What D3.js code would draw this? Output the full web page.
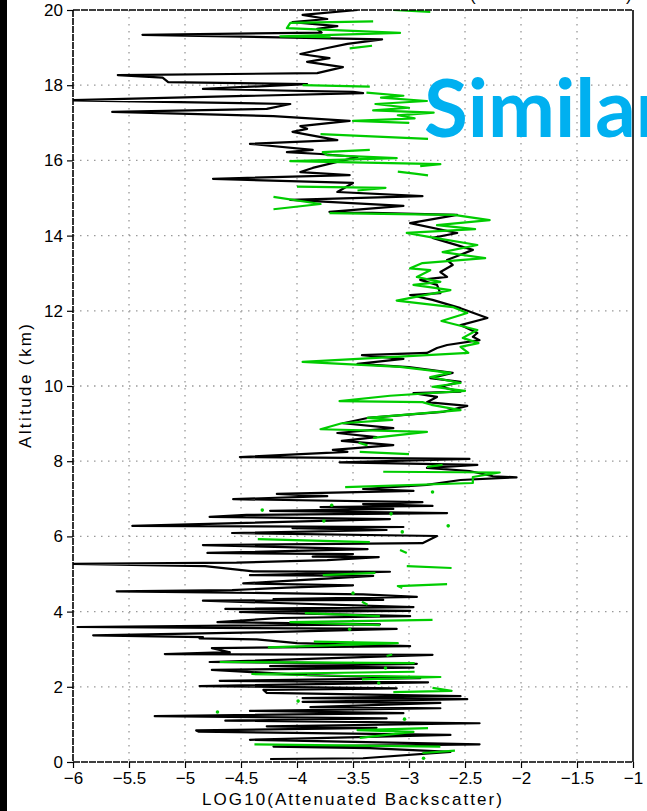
<!DOCTYPE html>
<html>
<head>
<meta charset="utf-8">
<script src="https://cdn.jsdelivr.net/npm/d3@7"></script>
<style>
  body { margin: 0; background: #fff; }
  svg { display: block; }
</style>
</head>
<body>
<div id="chart"></div>
<script>
// axis ticks
var xTicks = [-6, -5.5, -5, -4.5, -4, -3.5, -3, -2.5, -2, -1.5, -1];
var yTicks = [0, 2, 4, 6, 8, 10, 12, 14, 16, 18, 20];

// black profile: [altitude km, log10 backscatter]
var blackProfile = [
  [20.0,-3.46],[19.87,-3.95],[19.76,-3.73],[19.68,-4.04],[19.57,-3.64],[19.5,-3.82],[19.4,-3.78],[19.34,-5.38],
  [19.22,-3.24],[19.1,-3.55],[18.99,-3.73],[18.83,-3.97],[18.72,-3.71],[18.62,-3.91],[18.48,-3.59],[18.32,-3.82],
  [18.27,-5.6],[18.2,-5.2],[18.08,-5.15],[18.03,-3.91],[17.9,-4.84],[17.82,-3.5],[17.79,-3.41],[17.6,-6.05],
  [17.5,-4.06],[17.37,-4.27],[17.29,-5.65],[17.18,-4.21],[17.05,-3.53],[16.91,-3.97],[16.84,-3.91],[16.76,-4.04],
  [16.54,-3.64],[16.44,-4.42],[16.28,-3.86],[16.22,-4.09],[16.17,-3.79],[16.09,-3.46],[15.8,-3.86],[15.69,-3.97],
  [15.61,-3.53],[15.51,-4.75],[15.4,-3.5],[15.16,-3.64],[15.05,-2.88],[14.95,-4.06],[14.79,-3.05],[14.63,-3.71],
  [14.55,-2.57],[14.33,-2.99],[14.07,-2.57],[13.94,-2.79],[13.62,-2.43],[13.35,-2.66],[13.22,-2.61],[13.03,-2.72],
  [12.9,-2.66],[12.82,-2.9],[12.69,-2.75],[12.47,-2.72],[12.42,-2.99],[12.29,-2.79],[12.07,-2.54],[11.81,-2.3],
  [11.62,-2.54],[11.41,-2.39],[11.31,-2.43],[11.22,-2.37],[11.09,-2.66],[11.01,-2.75],[10.88,-2.84],[10.82,-3.42],
  [10.72,-3.05],[10.59,-3.46],[10.5,-3.0],[10.35,-2.61],[10.21,-2.81],[10.11,-2.54],[9.98,-2.72],[9.85,-2.54],
  [9.81,-2.96],[9.71,-2.75],[9.57,-2.84],[9.47,-2.48],[9.31,-2.7],[9.15,-3.37],[9.01,-3.59],[8.88,-3.14],
  [8.75,-3.64],[8.64,-3.29],[8.54,-3.6],[8.43,-3.14],[8.3,-3.68],[8.25,-3.55],[8.11,-4.51],[8.06,-2.46],
  [7.97,-3.62],[7.9,-2.39],[7.82,-2.84],[7.74,-2.46],[7.6,-2.25],[7.57,-2.04],[7.5,-2.54],[7.37,-2.84],
  [7.26,-3.41],[7.21,-2.96],[7.13,-4.18],[7.07,-3.73],[6.99,-4.57],[6.91,-2.88],[6.86,-3.41],[6.81,-2.79],
  [6.78,-3.79],[6.73,-3.14],[6.68,-4.24],[6.62,-2.66],[6.57,-4.45],[6.52,-4.78],[6.46,-3.17],[6.28,-5.47],
  [6.25,-3.05],[6.22,-4.04],[6.17,-3.2],[6.09,-4.58],[6.01,-2.75],[5.82,-2.88],[5.77,-4.84],[5.66,-3.37],
  [5.56,-4.8],[5.53,-3.5],[5.46,-3.86],[5.45,-3.27],[5.37,-3.73],[5.3,-4.54],[5.27,-6.05],[5.21,-4.82],
  [5.07,-4.39],[5.06,-3.17],[4.97,-4.42],[4.95,-3.32],[4.79,-4.24],[4.75,-4.48],[4.7,-3.5],[4.64,-4.09],
  [4.57,-4.58],[4.54,-5.61],[4.46,-3.41],[4.39,-2.93],[4.33,-4.21],[4.31,-3.23],[4.29,-4.84],[4.12,-2.96],
  [4.07,-4.64],[4.02,-2.99],[3.99,-4.51],[3.88,-2.99],[3.83,-4.15],[3.72,-4.71],[3.66,-3.26],[3.59,-5.96],
  [3.54,-3.11],[3.45,-4.33],[3.37,-5.82],[3.32,-4.84],[3.29,-4.87],[3.26,-4.36],[3.16,-4.0],[3.08,-2.99],
  [3.03,-4.76],[2.92,-4.6],[2.87,-5.18],[2.85,-2.79],[2.66,-4.78],[2.61,-2.93],[2.55,-4.24],[2.51,-2.96],
  [2.45,-4.76],[2.31,-3.91],[2.23,-2.9],[2.16,-4.69],[2.12,-2.83],[2.02,-4.87],[1.96,-3.11],[1.92,-4.3],
  [1.84,-4.27],[1.75,-2.54],[1.7,-3.95],[1.67,-2.48],[1.6,-3.95],[1.57,-2.72],[1.46,-3.88],[1.43,-2.72],
  [1.36,-4.42],[1.3,-3.05],[1.22,-5.27],[1.16,-3.2],[1.1,-4.64],[1.03,-2.37],[0.95,-4.27],[0.91,-3.29],
  [0.84,-4.9],[0.81,-4.88],[0.72,-2.63],[0.64,-3.73],[0.59,-4.42],[0.47,-2.37],[0.41,-4.21],[0.37,-3.35],
  [0.27,-2.63],[0.1,-3.41],[0.08,-4.24]
];

// green profile, null = missing data
var greenProfile = [
  [20.0,-3.14],[19.95,-2.81],null,
  [19.7,-3.32],[19.66,-4.06],[19.52,-4.09],[19.39,-3.08],[19.3,-4.15],[19.28,-3.7],null,
  [19.05,-3.33],[18.98,-3.53],null,
  [18.0,-3.95],[17.96,-3.35],null,
  [17.8,-3.38],[17.72,-3.05],[17.67,-3.25],[17.58,-2.84],[17.5,-3.3],[17.4,-3.0],[17.33,-3.32],[17.27,-2.78],
  [17.2,-3.1],[17.12,-2.95],[17.05,-3.5],[17.0,-3.0],null,
  [16.7,-3.79],[16.57,-2.83],null,
  [16.28,-3.35],[16.22,-3.77],[16.14,-3.73],[16.06,-3.11],[15.98,-4.06],[15.9,-2.72],[15.85,-2.9],null,
  [15.7,-3.1],[15.65,-2.95],[15.6,-2.83],null,
  [15.3,-4.0],[15.27,-3.21],[15.2,-3.46],null,
  [15.03,-4.21],[14.84,-3.79],[14.7,-4.21],null,
  [14.6,-3.71],[14.55,-2.6],[14.41,-2.28],[14.28,-2.75],[14.17,-2.41],[14.07,-3.02],[13.96,-2.81],[13.75,-2.39],
  [13.56,-2.7],[13.4,-2.32],[13.27,-2.88],[13.13,-2.99],[13.08,-2.81],[12.9,-2.93],[12.77,-2.72],[12.69,-2.96],
  [12.55,-2.63],[12.27,-3.11],[12.1,-2.61],[11.94,-2.48],[11.73,-2.71],[11.49,-2.39],[11.28,-2.52],[11.14,-2.38],
  [11.04,-2.54],[10.88,-2.47],[10.64,-3.95],[10.51,-3.08],[10.35,-2.63],[10.24,-2.81],[10.08,-2.54],[9.98,-2.79],
  [9.87,-2.5],[9.74,-3.17],[9.6,-3.62],[9.57,-2.88],[9.5,-2.8],[9.36,-2.54],[9.15,-3.37],[9.1,-3.15],
  [9.01,-3.6],[8.85,-3.79],[8.78,-2.84],[8.62,-3.32],null,
  [8.49,-3.45],[8.42,-3.37],null,
  [8.25,-3.44],[8.19,-3.0],null,
  [7.9,-2.7],[7.85,-2.84],null,
  [7.72,-3.23],[7.7,-2.19],[7.58,-2.43],[7.42,-2.43],[7.31,-3.57],null,
  [7.18,-2.79],null,[6.83,-3.69],null,[6.7,-4.31],null,[6.6,-3.16],null,[6.41,-3.76],null,[6.28,-2.65],null,[6.12,-3.06],null,
  [5.93,-4.35],[5.85,-3.35],null,
  [5.64,-3.08],[5.56,-3.02],null,
  [5.21,-3.02],[5.16,-2.62],null,
  [5.03,-3.3],[4.97,-3.77],null,
  [4.73,-2.66],[4.68,-3.1],[4.63,-3.06],null,
  [4.49,-3.5],null,
  [4.26,-3.42],[4.18,-3.37],null,
  [3.96,-3.93],[3.88,-3.26],null,
  [3.78,-2.79],[3.72,-4.06],[3.64,-3.26],null,
  [3.53,-3.53],null,
  [3.2,-3.85],[3.16,-3.1],[3.05,-4.26],null,
  [2.86,-3.15],[2.82,-3.2],null,
  [2.66,-4.69],[2.63,-2.95],null,
  [2.5,-3.21],null,
  [2.4,-2.95],[2.34,-4.4],[2.26,-2.72],[2.2,-3.42],null,
  [2.1,-3.27],null,
  [1.97,-2.79],[1.89,-2.62],[1.86,-3.14],null,
  [1.62,-3.99],null,[1.33,-4.71],null,[1.14,-3.04],null,
  [0.9,-2.83],[0.85,-3.46],[0.8,-2.96],[0.64,-3.44],null,
  [0.47,-4.38],[0.41,-2.72],null,
  [0.3,-2.59],[0.24,-2.88],null,
  [0.1,-2.87]
];

var W = 647, H = 811;
var m = {left: 73, right: 14, top: 10, bottom: 49};
var iw = W - m.left - m.right, ih = H - m.top - m.bottom;

var svg = d3.select("#chart").append("svg").attr("width", W).attr("height", H);

// black strip on the left edge
svg.append("rect").attr("x", 0).attr("y", 0).attr("width", 7).attr("height", H).attr("fill", "#000");

// clipped bits of a title above the frame
svg.append("text").attr("x", 470).attr("y", 1).attr("font-family", "Liberation Sans").attr("font-size", 17).text("(");
svg.append("text").attr("x", 626).attr("y", 1).attr("font-family", "Liberation Sans").attr("font-size", 17).text(")");

var g = svg.append("g").attr("transform", "translate(" + m.left + "," + m.top + ")");

var x = d3.scaleLinear().domain([-6, -1]).range([0, iw]);
var y = d3.scaleLinear().domain([0, 20]).range([ih, 0]);

// dotted grid
g.append("g").selectAll("line")
  .data(xTicks.slice(1, -1)).enter().append("line")
  .attr("x1", d => x(d)).attr("x2", d => x(d)).attr("y1", 0).attr("y2", ih)
  .attr("stroke", "#999").attr("stroke-width", 1.3).attr("stroke-dasharray", "1.5,5.5");
g.append("g").selectAll("line")
  .data(yTicks.slice(1, -1)).enter().append("line")
  .attr("y1", d => y(d)).attr("y2", d => y(d)).attr("x1", 0).attr("x2", iw)
  .attr("stroke", "#999").attr("stroke-width", 1.3).attr("stroke-dasharray", "1.5,5.5");

g.append("clipPath").attr("id", "plotclip")
  .append("rect").attr("width", iw).attr("height", ih);

var plot = g.append("g").attr("clip-path", "url(#plotclip)");

var line = d3.line()
  .defined(d => d != null)
  .x(d => x(d[1]))
  .y(d => y(d[0]));

plot.append("path").datum(blackProfile)
  .attr("d", line).attr("fill", "none")
  .attr("stroke", "#000").attr("stroke-width", 2.2).attr("stroke-linejoin", "round");

plot.append("path").datum(greenProfile)
  .attr("d", line).attr("fill", "none")
  .attr("stroke", "#00cc00").attr("stroke-width", 2.2).attr("stroke-linejoin", "round");

// isolated green samples show up as dots
var lonely = greenProfile.filter(function(d, i) {
  return d != null && greenProfile[i - 1] == null && greenProfile[i + 1] == null;
});
plot.selectAll("circle.dot").data(lonely).enter().append("circle")
  .attr("cx", d => x(d[1])).attr("cy", d => y(d[0])).attr("r", 1.8).attr("fill", "#00cc00");

// axes
var fmt = d3.format("");
var xAxis = g.append("g").attr("transform", "translate(0," + ih + ")")
  .call(d3.axisBottom(x).tickValues(xTicks).tickSize(6).tickPadding(4).tickFormat(fmt));
var yAxis = g.append("g")
  .call(d3.axisLeft(y).tickValues(yTicks).tickSize(6).tickPadding(4).tickFormat(fmt));

[xAxis, yAxis].forEach(function(a) {
  a.selectAll("text").attr("font-family", "Liberation Sans, Arial, sans-serif").attr("font-size", 17).attr("fill", "#000");
  a.selectAll("line").attr("stroke", "#000").attr("stroke-width", 1.2);
  a.select(".domain").remove();
});

// frame
g.append("line").attr("x1", 0).attr("x2", 0).attr("y1", 0).attr("y2", ih)
  .attr("stroke", "#000").attr("stroke-width", 1.6).attr("stroke-dasharray", "7,1");
g.append("line").attr("x1", 0).attr("x2", iw).attr("y1", ih).attr("y2", ih)
  .attr("stroke", "#000").attr("stroke-width", 1.6).attr("stroke-dasharray", "7,1");
g.append("line").attr("x1", 0).attr("x2", iw).attr("y1", 0).attr("y2", 0)
  .attr("stroke", "#000").attr("stroke-width", 1.4).attr("stroke-dasharray", "7,1");
g.append("line").attr("x1", iw).attr("x2", iw).attr("y1", 0).attr("y2", ih)
  .attr("stroke", "#000").attr("stroke-width", 1.6);

// axis titles
svg.append("text")
  .attr("x", 352).attr("y", 805).attr("text-anchor", "middle")
  .attr("font-family", "Liberation Sans, Arial, sans-serif").attr("font-size", 17)
  .attr("textLength", 300).attr("lengthAdjust", "spacing")
  .text("LOG10(Attenuated Backscatter)");

svg.append("text")
  .attr("transform", "translate(31,386) rotate(-90)").attr("text-anchor", "middle")
  .attr("font-family", "Liberation Sans, Arial, sans-serif").attr("font-size", 17)
  .attr("textLength", 124).attr("lengthAdjust", "spacing")
  .text("Altitude (km)");

// overlay word
svg.append("text")
  .attr("x", 424).attr("y", 137)
  .attr("font-family", "Lato, 'Open Sans', sans-serif").attr("font-weight", 700)
  .attr("font-size", 80).attr("fill", "#00b0f0")
  .text("Similar");
</script>
</body>
</html>
